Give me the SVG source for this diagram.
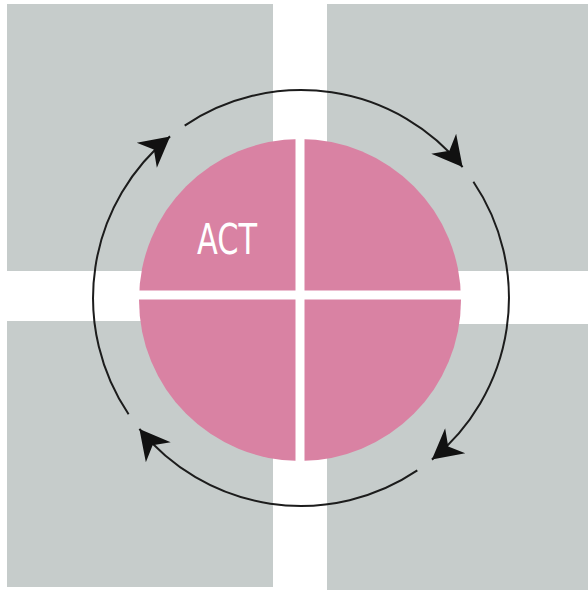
<svg xmlns="http://www.w3.org/2000/svg" width="588" height="590" viewBox="0 0 588 590">
<style>
.bg{fill:#c6cccb}
.q{fill:#d982a3}
.arc{fill:none;stroke:#1c1c1c;stroke-width:2}
.lbl{fill:#ffffff;font-family:"DejaVu Sans Condensed","DejaVu Sans",sans-serif;font-size:42px}
</style>
<defs>
<marker id="ah" markerUnits="userSpaceOnUse" markerWidth="60" markerHeight="60" refX="0" refY="0" orient="auto" overflow="visible">
<path d="M0,0 L-30,-16 L-21,0 L-30,16 Z" fill="#111"/>
</marker>
<clipPath id="c"><circle cx="300" cy="300" r="161"/></clipPath>
</defs>
<rect width="588" height="590" fill="#ffffff"/>
<g id="squares">
<g id="sq-tl"><rect class="bg" x="7" y="4" width="266" height="267"/></g>
<g id="sq-tr"><rect class="bg" x="327" y="4" width="261" height="267"/></g>
<g id="sq-bl"><rect class="bg" x="7" y="321" width="266" height="266"/></g>
<g id="sq-br"><rect class="bg" x="327" y="324" width="261" height="266"/></g>
</g>
<g id="circle" clip-path="url(#c)">
<g id="q-act"><rect class="q" x="130" y="130" width="165.5" height="160.5"/></g>
<g id="q-tr"><rect class="q" x="304.5" y="130" width="165.5" height="160.5"/></g>
<g id="q-bl"><rect class="q" x="130" y="299.5" width="165.5" height="170"/></g>
<g id="q-br"><rect class="q" x="304.5" y="299.5" width="165.5" height="170"/></g>
</g>
<text class="lbl" x="197" y="254" textLength="60" lengthAdjust="spacingAndGlyphs">ACT</text>
<g id="connectors">
<path class="arc" d="M128.6,414.3 A208,208 0 0 1 170.1,136.4" marker-end="url(#ah)"/>
<path class="arc" d="M184.7,125.6 A208,208 0 0 1 462.6,167.1" marker-end="url(#ah)"/>
<path class="arc" d="M473.4,181.7 A208,208 0 0 1 431.9,459.6" marker-end="url(#ah)"/>
<path class="arc" d="M417.3,470.4 A208,208 0 0 1 139.4,428.9" marker-end="url(#ah)"/>
</g>
</svg>
